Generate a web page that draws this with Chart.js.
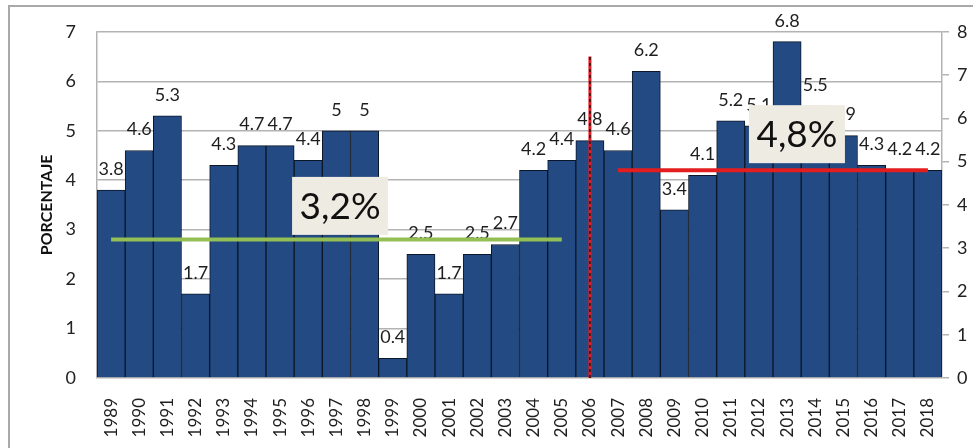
<!DOCTYPE html>
<html>
<head>
<meta charset="utf-8">
<script src="https://cdn.jsdelivr.net/npm/chart.js@4.4.1/dist/chart.umd.min.js"></script>
<style>
  html, body { margin: 0; padding: 0; background: #fff; }
  #wrap { width: 973px; height: 448px; position: relative; }
</style>
</head>
<body>
<div id="wrap"><canvas id="growthChart"></canvas></div>
<script>
// yearly growth, percent
const years = ['1989','1990','1991','1992','1993','1994','1995','1996','1997','1998',
               '1999','2000','2001','2002','2003','2004','2005','2006','2007','2008',
               '2009','2010','2011','2012','2013','2014','2015','2016','2017','2018'];
const growth = [3.8, 4.6, 5.3, 1.7, 4.3, 4.7, 4.7, 4.4, 5, 5,
                0.4, 2.5, 1.7, 2.5, 2.7, 4.2, 4.4, 4.8, 4.6, 6.2,
                3.4, 4.1, 5.2, 5.1, 6.8, 5.5, 4.9, 4.3, 4.2, 4.2];

// period averages (right axis) and the split year
const firstPeriod = ['1989', '2005'];
const firstAvg = 3.2;
const secondPeriod = ['2007', '2018'];
const secondAvg = 4.8;
const splitYear = '2006';
const splitTop = 6.5;

const leftTicks = [0, 1, 2, 3, 4, 5, 6, 7];
const rightTicks = [0, 1, 2, 3, 4, 5, 6, 7, 8];

const fmt = v => String(v).replace('.', ',') + '%';

// white page with the grey frame around it
const framePlugin = {
    id: 'frame',
    beforeDraw(chart) {
        const ctx = chart.ctx;
        ctx.save();
        ctx.fillStyle = '#fff';
        ctx.fillRect(0, 0, chart.width, chart.height);
        ctx.strokeStyle = '#a9a9a9';
        ctx.lineWidth = 2;
        ctx.strokeRect(9, 6, chart.width + 20, chart.height + 20);
        ctx.restore();
    }
};

// value above each bar, drawn right after the bars so the lines sit on top
const barLabels = {
    id: 'barLabels',
    afterDatasetDraw(chart, args) {
        if (args.index !== 0) return;
        const ctx = chart.ctx;
        ctx.save();
        ctx.font = '18px Lato';
        ctx.fillStyle = '#1e1e1e';
        ctx.textAlign = 'center';
        ctx.textBaseline = 'middle';
        args.meta.data.forEach((bar, i) => {
            ctx.fillText(String(growth[i]), bar.x, bar.y - 21);
        });
        ctx.restore();
    }
};

// boxed average labels
const avgBoxes = {
    id: 'avgBoxes',
    afterDatasetsDraw(chart) {
        const ctx = chart.ctx;
        const xs = chart.scales.x, ys = chart.scales.y;
        const boxes = [
            { text: fmt(firstAvg), x: xs.getPixelForValue(8.13), y: ys.getPixelForValue(3.48) },
            { text: fmt(secondAvg), x: xs.getPixelForValue(24.35), y: ys.getPixelForValue(4.93) }
        ];
        ctx.save();
        ctx.font = '37px Lato';
        ctx.textAlign = 'center';
        ctx.textBaseline = 'middle';
        boxes.forEach(b => {
            ctx.fillStyle = '#eeebe2';
            ctx.fillRect(b.x - 48, b.y - 29, 96, 58);
            ctx.fillStyle = '#111';
            ctx.fillText(b.text, b.x, b.y + 1);
        });
        ctx.restore();
    }
};

new Chart(document.getElementById('growthChart'), {
    type: 'bar',
    data: {
        labels: years,
        datasets: [
            {
                data: growth,
                backgroundColor: '#234a83',
                borderColor: '#0b1728',
                borderWidth: 1,
                categoryPercentage: 1,
                barPercentage: 1,
                order: 3
            },
            {
                type: 'line',
                data: [{ x: firstPeriod[0], y: firstAvg }, { x: firstPeriod[1], y: firstAvg }],
                yAxisID: 'y1',
                borderColor: '#93bf55',
                borderWidth: 4,
                pointRadius: 0,
                order: 1
            },
            {
                type: 'line',
                data: [{ x: secondPeriod[0], y: secondAvg }, { x: secondPeriod[1], y: secondAvg }],
                yAxisID: 'y1',
                borderColor: '#e41e1e',
                borderWidth: 4,
                pointRadius: 0,
                order: 1
            },
            {
                type: 'line',
                data: [{ x: splitYear, y: 0 }, { x: splitYear, y: splitTop }],
                borderColor: '#e01c24',
                borderWidth: 3,
                pointRadius: 0,
                order: 2
            },
            {
                type: 'line',
                data: [{ x: splitYear, y: 0 }, { x: splitYear, y: splitTop }],
                borderColor: '#1a1a1a',
                borderWidth: 1.5,
                borderDash: [3, 3],
                pointRadius: 0,
                order: 0
            }
        ]
    },
    options: {
        responsive: true,
        maintainAspectRatio: false,
        animation: false,
        layout: { padding: { top: 28, left: 0, right: 0, bottom: 0 } },
        plugins: { legend: { display: false }, tooltip: { enabled: false } },
        scales: {
            x: {
                grid: { display: false },
                border: { display: false },
                ticks: {
                    minRotation: 90, maxRotation: 90, autoSkip: false, padding: 12,
                    color: '#1e1e1e', font: { family: 'Lato', size: 17 }
                },
                afterFit: s => { s.height = 70; }
            },
            y: {
                min: 0, max: 7,
                afterBuildTicks: s => { s.ticks = leftTicks.map(v => ({ value: v })); },
                grid: { color: '#b3b3b3', lineWidth: 1.5, drawTicks: false },
                border: { color: '#b3b3b3', width: 1.5 },
                ticks: { padding: 21, color: '#222', font: { family: 'Lato', size: 18 } },
                title: {
                    display: true, text: 'PORCENTAJE', color: '#111',
                    font: { family: 'Lato', size: 16, weight: 'bold' },
                    padding: { top: 37, bottom: 0 }
                },
                afterFit: s => { s.width = 97; }
            },
            y1: {
                position: 'right',
                min: 0, max: 8,
                afterBuildTicks: s => { s.ticks = rightTicks.map(v => ({ value: v })); },
                grid: { drawOnChartArea: false, color: '#b3b3b3', tickLength: 7, lineWidth: 1.5 },
                border: { color: '#b3b3b3', width: 1.5 },
                ticks: { padding: 8, color: '#222', font: { family: 'Lato', size: 18 } },
                afterFit: s => { s.width = 31; }
            }
        }
    },
    plugins: [framePlugin, barLabels, avgBoxes]
});
</script>
</body>
</html>
